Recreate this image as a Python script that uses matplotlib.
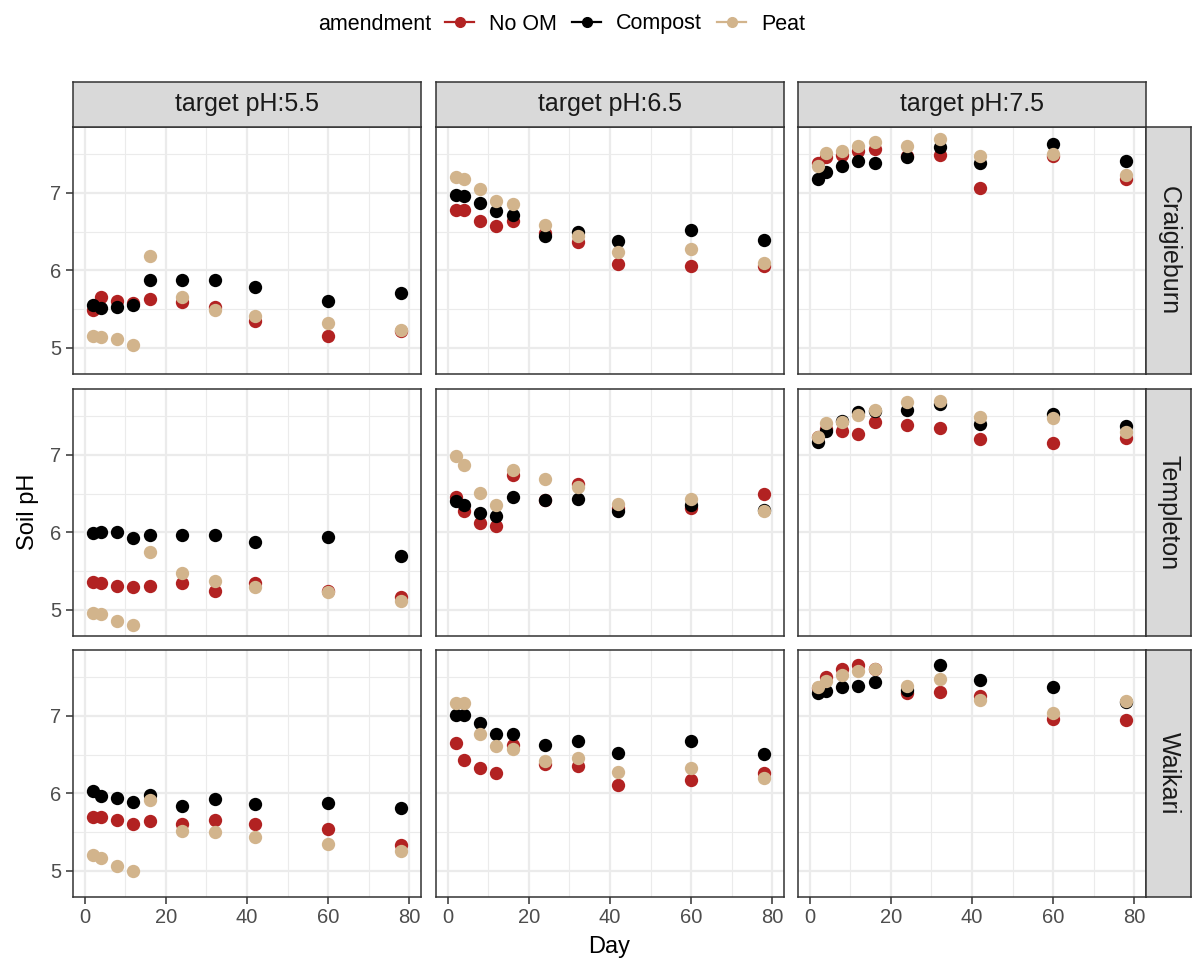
import matplotlib
matplotlib.use("Agg")
import matplotlib.pyplot as plt
from matplotlib.lines import Line2D
from matplotlib.ticker import MultipleLocator

plt.rcParams['font.family'] = ['Liberation Sans', 'DejaVu Sans']

days = [2, 4, 8, 12, 16, 24, 32, 42, 60, 78]
amendments = ["No OM", "Compost", "Peat"]
colors = {"No OM": "#B22222", "Compost": "#000000", "Peat": "#D2B48C"}
sites = ["Craigieburn", "Templeton", "Waikari"]
targets = ["target pH:5.5", "target pH:6.5", "target pH:7.5"]

# Craigieburn
cr_55_noom = [5.49, 5.66, 5.60, 5.58, 5.63, 5.59, 5.52, 5.35, 5.15, 5.22]
cr_55_compost = [5.55, 5.51, 5.53, 5.55, 5.88, 5.88, 5.88, 5.79, 5.60, 5.70]
cr_55_peat = [5.15, 5.14, 5.11, 5.03, 6.19, 5.66, 5.49, 5.41, 5.32, 5.23]
cr_65_noom = [6.78, 6.78, 6.64, 6.57, 6.63, 6.48, 6.36, 6.08, 6.05, 6.06]
cr_65_compost = [6.97, 6.96, 6.87, 6.76, 6.71, 6.44, 6.50, 6.38, 6.52, 6.39]
cr_65_peat = [7.21, 7.18, 7.05, 6.89, 6.85, 6.58, 6.44, 6.24, 6.27, 6.10]
cr_75_noom = [7.39, 7.46, 7.49, 7.54, 7.57, 7.48, 7.49, 7.06, 7.47, 7.18]
cr_75_compost = [7.18, 7.27, 7.35, 7.41, 7.38, 7.46, 7.59, 7.39, 7.63, 7.41]
cr_75_peat = [7.35, 7.51, 7.54, 7.60, 7.65, 7.61, 7.69, 7.47, 7.50, 7.23]

# Templeton
te_55_noom = [5.36, 5.35, 5.30, 5.29, 5.31, 5.35, 5.24, 5.35, 5.24, 5.17]
te_55_compost = [5.99, 6.00, 6.00, 5.93, 5.96, 5.96, 5.96, 5.88, 5.94, 5.69]
te_55_peat = [4.96, 4.94, 4.85, 4.80, 5.75, 5.48, 5.37, 5.29, 5.23, 5.11]
te_65_noom = [6.45, 6.28, 6.12, 6.08, 6.74, 6.42, 6.62, 6.31, 6.31, 6.50]
te_65_compost = [6.40, 6.35, 6.25, 6.21, 6.45, 6.42, 6.43, 6.27, 6.35, 6.29]
te_65_peat = [6.99, 6.87, 6.51, 6.35, 6.81, 6.69, 6.59, 6.37, 6.43, 6.27]
te_75_noom = [7.23, 7.33, 7.31, 7.27, 7.42, 7.39, 7.35, 7.21, 7.15, 7.22]
te_75_compost = [7.16, 7.31, 7.44, 7.55, 7.57, 7.58, 7.66, 7.40, 7.53, 7.37]
te_75_peat = [7.23, 7.41, 7.42, 7.52, 7.58, 7.68, 7.70, 7.49, 7.48, 7.29]

# Waikari
wa_55_noom = [5.69, 5.69, 5.65, 5.60, 5.64, 5.60, 5.65, 5.60, 5.54, 5.33]
wa_55_compost = [6.03, 5.97, 5.94, 5.89, 5.98, 5.84, 5.92, 5.86, 5.87, 5.81]
wa_55_peat = [5.20, 5.16, 5.06, 4.99, 5.91, 5.51, 5.50, 5.43, 5.35, 5.25]
wa_65_noom = [6.65, 6.43, 6.33, 6.26, 6.62, 6.38, 6.35, 6.11, 6.17, 6.26]
wa_65_compost = [7.01, 7.01, 6.91, 6.76, 6.76, 6.62, 6.67, 6.52, 6.67, 6.51]
wa_65_peat = [7.17, 7.17, 6.77, 6.61, 6.57, 6.41, 6.46, 6.28, 6.33, 6.20]
wa_75_noom = [7.36, 7.50, 7.61, 7.65, 7.61, 7.29, 7.31, 7.25, 6.96, 6.94]
wa_75_compost = [7.29, 7.32, 7.37, 7.39, 7.44, 7.33, 7.66, 7.46, 7.37, 7.18]
wa_75_peat = [7.37, 7.45, 7.53, 7.58, 7.60, 7.39, 7.47, 7.20, 7.04, 7.19]

panels = {
    (0, 0): (cr_55_noom, cr_55_compost, cr_55_peat),
    (0, 1): (cr_65_noom, cr_65_compost, cr_65_peat),
    (0, 2): (cr_75_noom, cr_75_compost, cr_75_peat),
    (1, 0): (te_55_noom, te_55_compost, te_55_peat),
    (1, 1): (te_65_noom, te_65_compost, te_65_peat),
    (1, 2): (te_75_noom, te_75_compost, te_75_peat),
    (2, 0): (wa_55_noom, wa_55_compost, wa_55_peat),
    (2, 1): (wa_65_noom, wa_65_compost, wa_65_peat),
    (2, 2): (wa_75_noom, wa_75_compost, wa_75_peat),
}

W, H = 1192, 967
fig = plt.figure(figsize=(W / 100, H / 100), dpi=100)
fig.patch.set_facecolor("white")

col_left = [73, 436, 798]
col_w = 348
row_top = [127, 389, 650]
row_h = 247
strip_top = 82
strip_right_x = 1146
strip_size = 45

def add_ax(l, t, w, h, **kw):
    return fig.add_axes([l / W, 1 - (t + h) / H, w / W, h / H], **kw)

border_col = "#333333"
tick_col = "#4D4D4D"

for r in range(3):
    for c in range(3):
        ax = add_ax(col_left[c], row_top[r], col_w, row_h)
        ax.set_xlim(-2.9, 82.9)
        ax.set_ylim(4.66, 7.85)
        ax.xaxis.set_major_locator(MultipleLocator(20))
        ax.xaxis.set_minor_locator(MultipleLocator(10))
        ax.yaxis.set_major_locator(MultipleLocator(1))
        ax.yaxis.set_minor_locator(MultipleLocator(0.5))
        ax.grid(True, which="major", color="#EBEBEB", linewidth=1.6, zorder=0)
        ax.grid(True, which="minor", color="#EBEBEB", linewidth=0.8, zorder=0)
        ax.set_axisbelow(True)
        for sp in ax.spines.values():
            sp.set_color(border_col)
            sp.set_linewidth(1.1)
        ax.tick_params(which="minor", length=0)
        ax.tick_params(which="major", length=5, width=1.1, color=border_col,
                       labelsize=14.5, labelcolor=tick_col, pad=3.2)
        if c != 0:
            ax.tick_params(axis="y", which="major", length=0, labelleft=False)
        if r != 2:
            ax.tick_params(axis="x", which="major", length=0, labelbottom=False)
        for name, vals in zip(amendments, panels[(r, c)]):
            ax.scatter(days, vals, s=92, color=colors[name], zorder=3,
                       linewidths=0)

# top strips
for c in range(3):
    sax = add_ax(col_left[c], strip_top, col_w, strip_size)
    sax.set_facecolor("#D9D9D9")
    sax.set_xticks([]); sax.set_yticks([])
    for sp in sax.spines.values():
        sp.set_color(border_col); sp.set_linewidth(1.1)
    sax.text(0.5, 0.5, targets[c], transform=sax.transAxes, ha="center",
             va="center", fontsize=18, color="#1A1A1A")

# right strips
for r in range(3):
    sax = add_ax(strip_right_x, row_top[r], strip_size, row_h)
    sax.set_facecolor("#D9D9D9")
    sax.set_xticks([]); sax.set_yticks([])
    for sp in sax.spines.values():
        sp.set_color(border_col); sp.set_linewidth(1.1)
    sax.text(0.5, 0.5, sites[r], transform=sax.transAxes, ha="center",
             va="center", fontsize=18, color="#1A1A1A", rotation=-90)

# axis titles
fig.text((73 + 1146) / 2 / W, 1 - 947 / H, "Day", ha="center", va="center",
         fontsize=17, color="black")
fig.text(28 / W, 1 - 512 / H, "Soil pH", ha="center", va="center",
         fontsize=17, color="black", rotation=90)

# legend
handles = [Line2D([0], [0], color=colors[a], marker="o", markersize=7,
                  linewidth=1.6) for a in amendments]
fig.text(318 / W, 1 - 24 / H, "amendment", ha="left", va="center",
         fontsize=15.5, color="black")
fig.legend(handles, amendments, loc="center left",
           bbox_to_anchor=(445 / W, 1 - 24 / H), ncol=3, frameon=False,
           fontsize=15.5, handlelength=1.35, handletextpad=0.7,
           columnspacing=0.7, borderaxespad=0, borderpad=0)

fig.savefig("out.png", dpi=100)
